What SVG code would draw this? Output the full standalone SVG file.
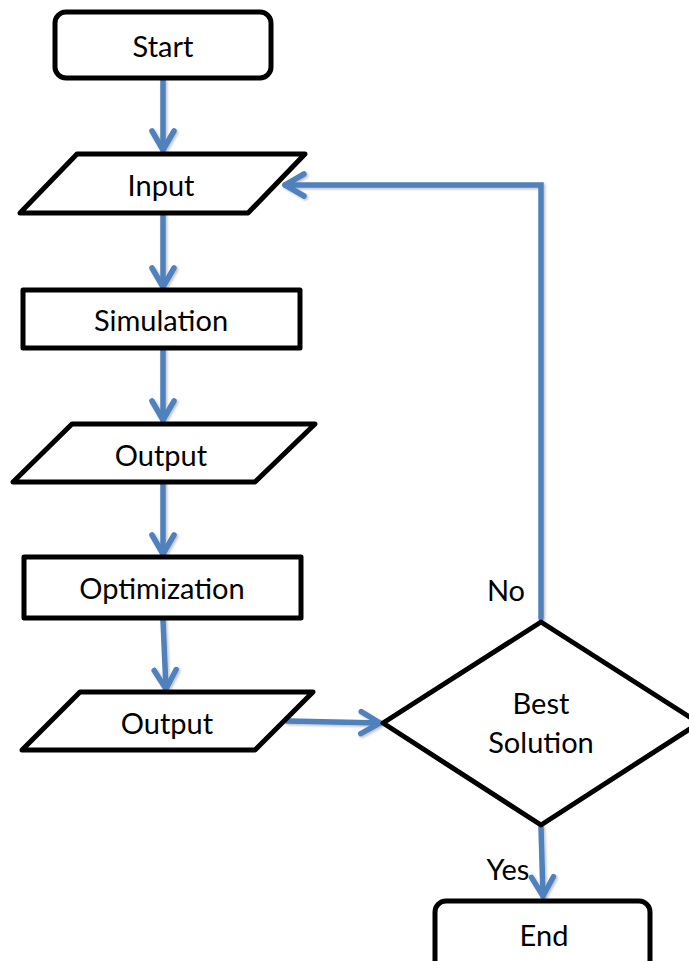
<svg xmlns="http://www.w3.org/2000/svg" width="689" height="961" viewBox="0 0 689 961">
  <style>
    .shape { fill: #ffffff; stroke: #000000; stroke-width: 5; stroke-linejoin: round; }
    .label { font-family: Lato, "Liberation Sans", sans-serif; font-size: 29px; fill: #000000; text-anchor: middle; dominant-baseline: central; }
    .flow { fill: none; stroke: #4F81BD; stroke-width: 5.5; stroke-linecap: round; stroke-linejoin: miter; marker-end: url(#chevron); }
  </style>
  <defs>
    <marker id="chevron" markerUnits="userSpaceOnUse" markerWidth="40" markerHeight="40" viewBox="-30 -20 40 40" refX="0" refY="0" orient="auto" overflow="visible">
      <path d="M -19 -11 L 0 0 L -19 11" fill="none" stroke="#4F81BD" stroke-width="5.5" stroke-linecap="round" stroke-linejoin="round"/>
    </marker>
    <filter id="soft" filterUnits="userSpaceOnUse" x="0" y="0" width="689" height="961">
      <feDropShadow dx="1.5" dy="1.5" stdDeviation="1.2" flood-color="#000000" flood-opacity="0.25"/>
    </filter>
  </defs>

  <g id="connectors" filter="url(#soft)">
    <path class="flow" d="M 163 81 L 163 150"/>
    <path class="flow" d="M 163 215 L 163 287"/>
    <path class="flow" d="M 163 350 L 163 420"/>
    <path class="flow" d="M 163 484 L 163 554"/>
    <path class="flow" d="M 163 620 L 166 689"/>
    <path class="flow" d="M 287 721 L 380 723"/>
    <path class="flow" d="M 541 618 L 541 185 L 285 185"/>
    <path class="flow" d="M 541 827 L 543 896"/>
  </g>

  <g id="start">
    <rect class="shape" x="55" y="12" width="216" height="66" rx="11"/>
    <text class="label" x="163" y="45">Start</text>
  </g>
  <g id="input">
    <polygon class="shape" points="77,154 305,154 248,213 20,213"/>
    <text class="label" x="161" y="184">Input</text>
  </g>
  <g id="simulation">
    <rect class="shape" x="23" y="290" width="277" height="58"/>
    <text class="label" x="161" y="319">Simulation</text>
  </g>
  <g id="output1">
    <polygon class="shape" points="72,424 315,424 255,482 13,482"/>
    <text class="label" x="161" y="454">Output</text>
  </g>
  <g id="optimization">
    <rect class="shape" x="24" y="557" width="277" height="61"/>
    <text class="label" x="162" y="587">Optimization</text>
  </g>
  <g id="output2">
    <polygon class="shape" points="80,692 313,692 255,750 22,750"/>
    <text class="label" x="167" y="722">Output</text>
  </g>
  <g id="decision">
    <polygon class="shape" points="541,622 699,723 541,825 383,723"/>
    <text class="label" x="541" y="702">Best</text>
    <text class="label" x="541" y="741">Solution</text>
  </g>
  <g id="end">
    <rect class="shape" x="435" y="901" width="215" height="70" rx="11"/>
    <text class="label" x="544" y="934">End</text>
  </g>

  <g id="branch-labels">
    <text class="label" x="506" y="589">No</text>
    <text class="label" x="508" y="868">Yes</text>
  </g>
</svg>
